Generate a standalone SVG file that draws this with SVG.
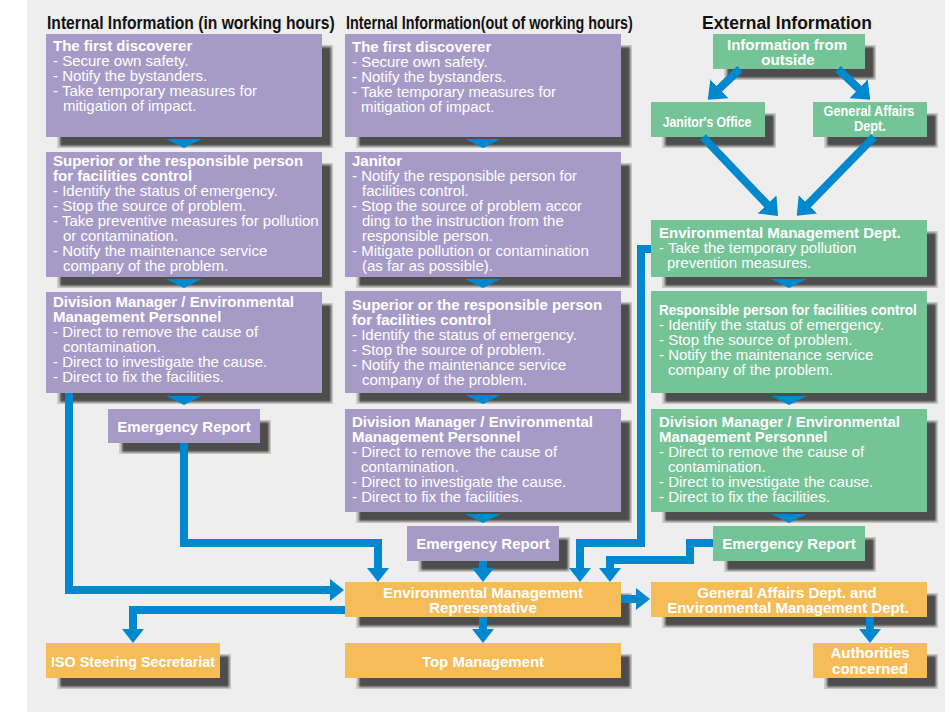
<svg xmlns="http://www.w3.org/2000/svg" width="950" height="712" viewBox="0 0 950 712">
<defs>
<style>
.hdr{font-family:"Liberation Sans",Arial,sans-serif;font-weight:bold;font-size:19px;fill:#111}
.t{font-family:"Liberation Sans",Arial,sans-serif;font-size:15px;fill:#fff}
.b{font-weight:bold}
.c{text-anchor:middle}
.p{fill:#a69bc7}
.g{fill:#74c498}
.o{fill:#f5bc58}
.s1{fill:#d0ccc8}
.s2{fill:#4d4d4d;filter:url(#bl)}
.con{fill:none;stroke:#0088cf;stroke-width:8}
.tri{fill:#0088cf}
</style>
<filter id="bl" x="-5%" y="-5%" width="110%" height="110%"><feGaussianBlur stdDeviation="1.2"/></filter>
<marker id="ah" markerUnits="userSpaceOnUse" markerWidth="14" markerHeight="22" viewBox="0 0 14 22" refX="1" refY="11" orient="auto"><path d="M0,0 L14,11 L0,22 Z" fill="#0088cf"/></marker>
<marker id="ahd" markerUnits="userSpaceOnUse" markerWidth="16" markerHeight="26" viewBox="0 0 16 26" refX="1" refY="13" orient="auto"><path d="M0,0 L16,13 L0,26 Z" fill="#0088cf"/></marker>
</defs>
<rect x="27" y="0" width="918" height="712" fill="#eeeeee"/>

<g id="headers">
<text class="hdr" transform="translate(47,29) scale(0.824,1)" x="0" y="0">Internal Information (in working hours)</text>
<text class="hdr" transform="translate(346,29) scale(0.755,1)" x="0" y="0">Internal Information(out of working hours)</text>
<text class="hdr" transform="translate(702,29) scale(0.92,1)" x="0" y="0">External Information</text>
</g>

<!-- Column 1 -->
<g id="c1-discoverer">
<rect class="s1" x="57" y="45" width="276" height="103"/><rect class="s2" x="60" y="47" width="271" height="99"/>
<rect class="p" x="46" y="34" width="276" height="103"/>
<text class="t"><tspan class="b" x="53" y="51">The first discoverer</tspan><tspan x="53" y="66">- Secure own safety.</tspan><tspan x="53" y="81">- Notify the bystanders.</tspan><tspan x="53" y="96">- Take temporary measures for</tspan><tspan x="63" y="111">mitigation of impact.</tspan></text>
</g>
<g id="c1-superior">
<rect class="s1" x="57" y="163" width="276" height="125"/><rect class="s2" x="60" y="165" width="271" height="121"/>
<rect class="p" x="46" y="152" width="276" height="125"/>
<text class="t"><tspan class="b" x="53" y="166">Superior or the responsible person</tspan><tspan class="b" x="53" y="181">for facilities control</tspan><tspan x="53" y="196">- Identify the status of emergency.</tspan><tspan x="53" y="211">- Stop the source of problem.</tspan><tspan x="53" y="226">- Take preventive measures for pollution</tspan><tspan x="63" y="241">or contamination.</tspan><tspan x="53" y="256">- Notify the maintenance service</tspan><tspan x="63" y="271">company of the problem.</tspan></text>
</g>
<g id="c1-division">
<rect class="s1" x="57" y="303" width="276" height="101"/><rect class="s2" x="60" y="305" width="271" height="97"/>
<rect class="p" x="46" y="292" width="276" height="101"/>
<text class="t"><tspan class="b" x="53" y="307">Division Manager / Environmental</tspan><tspan class="b" x="53" y="322">Management Personnel</tspan><tspan x="53" y="337">- Direct to remove the cause of</tspan><tspan x="63" y="352">contamination.</tspan><tspan x="53" y="367">- Direct to investigate the cause.</tspan><tspan x="53" y="382">- Direct to fix the facilities.</tspan></text>
</g>
<g id="c1-report">
<rect class="s1" x="119" y="420" width="152" height="34"/><rect class="s2" x="122" y="422" width="147" height="30"/>
<rect class="p" x="108" y="409" width="152" height="34"/>
<text class="t b c" x="184" y="432">Emergency Report</text>
</g>

<!-- Column 2 -->
<g id="c2-discoverer">
<rect class="s1" x="356" y="45" width="276" height="103"/><rect class="s2" x="359" y="47" width="271" height="99"/>
<rect class="p" x="345" y="34" width="276" height="103"/>
<text class="t"><tspan class="b" x="352" y="52">The first discoverer</tspan><tspan x="352" y="67">- Secure own safety.</tspan><tspan x="352" y="82">- Notify the bystanders.</tspan><tspan x="352" y="97">- Take temporary measures for</tspan><tspan x="361" y="112">mitigation of impact.</tspan></text>
</g>
<g id="c2-janitor">
<rect class="s1" x="356" y="163" width="276" height="125"/><rect class="s2" x="359" y="165" width="271" height="121"/>
<rect class="p" x="345" y="152" width="276" height="125"/>
<text class="t"><tspan class="b" x="352" y="166">Janitor</tspan><tspan x="352" y="181">- Notify the responsible person for</tspan><tspan x="362" y="196">facilities control.</tspan><tspan x="352" y="211">- Stop the source of problem accor</tspan><tspan x="362" y="226">ding to the instruction from the</tspan><tspan x="362" y="241">responsible person.</tspan><tspan x="352" y="256">- Mitigate pollution or contamination</tspan><tspan x="362" y="271">(as far as possible).</tspan></text>
</g>
<g id="c2-superior">
<rect class="s1" x="356" y="302" width="276" height="102"/><rect class="s2" x="359" y="304" width="271" height="98"/>
<rect class="p" x="345" y="291" width="276" height="102"/>
<text class="t"><tspan class="b" x="352" y="310">Superior or the responsible person</tspan><tspan class="b" x="352" y="325">for facilities control</tspan><tspan x="352" y="340">- Identify the status of emergency.</tspan><tspan x="352" y="355">- Stop the source of problem.</tspan><tspan x="352" y="370">- Notify the maintenance service</tspan><tspan x="362" y="385">company of the problem.</tspan></text>
</g>
<g id="c2-division">
<rect class="s1" x="356" y="420" width="276" height="103"/><rect class="s2" x="359" y="422" width="271" height="99"/>
<rect class="p" x="345" y="409" width="276" height="103"/>
<text class="t"><tspan class="b" x="352" y="427">Division Manager / Environmental</tspan><tspan class="b" x="352" y="442">Management Personnel</tspan><tspan x="352" y="457">- Direct to remove the cause of</tspan><tspan x="361" y="472">contamination.</tspan><tspan x="352" y="487">- Direct to investigate the cause.</tspan><tspan x="352" y="502">- Direct to fix the facilities.</tspan></text>
</g>
<g id="c2-report">
<rect class="s1" x="418" y="537" width="152" height="35"/><rect class="s2" x="421" y="539" width="147" height="31"/>
<rect class="p" x="407" y="526" width="152" height="35"/>
<text class="t b c" x="483" y="549">Emergency Report</text>
</g>

<!-- Column 3 -->
<g id="c3-info">
<rect class="s1" x="724" y="45" width="152" height="35"/><rect class="s2" x="727" y="47" width="147" height="31"/>
<rect class="g" x="713" y="34" width="152" height="35"/>
<text class="t b c"><tspan x="787" y="50">Information from</tspan><tspan x="788" y="65">outside</tspan></text>
</g>
<g id="c3-janitor-office">
<rect class="s1" x="662" y="113" width="114" height="35"/><rect class="s2" x="665" y="115" width="109" height="31"/>
<rect class="g" x="651" y="102" width="114" height="35"/>
<text class="t b c" transform="translate(707,127) scale(0.816,1)" x="0" y="0">Janitor's Office</text>
</g>
<g id="c3-general-affairs">
<rect class="s1" x="824" y="113" width="114" height="35"/><rect class="s2" x="827" y="115" width="109" height="31"/>
<rect class="g" x="813" y="102" width="114" height="35"/>
<text class="t b c" transform="translate(869,0) scale(0.85,1)"><tspan x="0" y="116">General Affairs</tspan><tspan x="1" y="131">Dept.</tspan></text>
</g>
<g id="c3-emd">
<rect class="s1" x="662" y="231" width="276" height="57"/><rect class="s2" x="665" y="233" width="271" height="53"/>
<rect class="g" x="651" y="220" width="276" height="57"/>
<text class="t"><tspan class="b" x="659" y="238">Environmental Management Dept.</tspan><tspan x="659" y="253">- Take the temporary pollution</tspan><tspan x="667" y="268">prevention measures.</tspan></text>
</g>
<g id="c3-responsible">
<rect class="s1" x="662" y="302" width="276" height="102"/><rect class="s2" x="665" y="304" width="271" height="98"/>
<rect class="g" x="651" y="291" width="276" height="102"/>
<text class="t b" transform="translate(659,315) scale(0.9,1)" x="0" y="0">Responsible person for facilities control</text>
<text class="t"><tspan x="659" y="330">- Identify the status of emergency.</tspan><tspan x="659" y="345">- Stop the source of problem.</tspan><tspan x="659" y="360">- Notify the maintenance service</tspan><tspan x="668" y="375">company of the problem.</tspan></text>
</g>
<g id="c3-division">
<rect class="s1" x="662" y="420" width="276" height="103"/><rect class="s2" x="665" y="422" width="271" height="99"/>
<rect class="g" x="651" y="409" width="276" height="103"/>
<text class="t"><tspan class="b" x="659" y="427">Division Manager / Environmental</tspan><tspan class="b" x="659" y="442">Management Personnel</tspan><tspan x="659" y="457">- Direct to remove the cause of</tspan><tspan x="668" y="472">contamination.</tspan><tspan x="659" y="487">- Direct to investigate the cause.</tspan><tspan x="659" y="502">- Direct to fix the facilities.</tspan></text>
</g>
<g id="c3-report">
<rect class="s1" x="724" y="537" width="152" height="35"/><rect class="s2" x="727" y="539" width="147" height="31"/>
<rect class="g" x="713" y="526" width="152" height="35"/>
<text class="t b c" x="789" y="549">Emergency Report</text>
</g>

<!-- Bottom row -->
<g id="ems-rep">
<rect class="s1" x="356" y="593" width="276" height="35"/><rect class="s2" x="359" y="595" width="271" height="31"/>
<rect class="o" x="345" y="582" width="276" height="35"/>
<text class="t b c"><tspan x="483" y="598">Environmental Management</tspan><tspan x="483" y="613">Representative</tspan></text>
</g>
<g id="iso-secretariat">
<rect class="s1" x="57" y="654" width="174" height="35"/><rect class="s2" x="60" y="656" width="169" height="31"/>
<rect class="o" x="46" y="643" width="174" height="35"/>
<text class="t b c" transform="translate(133,667) scale(0.955,1)" x="0" y="0">ISO Steering Secretariat</text>
</g>
<g id="top-management">
<rect class="s1" x="356" y="654" width="276" height="35"/><rect class="s2" x="359" y="656" width="271" height="31"/>
<rect class="o" x="345" y="643" width="276" height="35"/>
<text class="t b c" x="483" y="667">Top Management</text>
</g>
<g id="ga-emd">
<rect class="s1" x="662" y="593" width="276" height="35"/><rect class="s2" x="665" y="595" width="271" height="31"/>
<rect class="o" x="651" y="582" width="276" height="35"/>
<text class="t b c"><tspan x="787" y="598">General Affairs Dept. and</tspan><tspan x="788" y="613">Environmental Management Dept.</tspan></text>
</g>
<g id="authorities">
<rect class="s1" x="824" y="654" width="114" height="35"/><rect class="s2" x="827" y="656" width="109" height="31"/>
<rect class="o" x="813" y="643" width="114" height="35"/>
<text class="t b c"><tspan x="870" y="658">Authorities</tspan><tspan x="870" y="674">concerned</tspan></text>
</g>

<g id="connectors">
<polygon class="tri" points="166,139 202,139 184,148"/>
<polygon class="tri" points="166,279 202,279 184,288"/>
<polygon class="tri" points="166,396 202,396 184,405"/>
<polygon class="tri" points="465,139 501,139 483,148"/>
<polygon class="tri" points="465,279 501,279 483,288"/>
<polygon class="tri" points="465,395 501,395 483,404"/>
<polygon class="tri" points="465,514 501,514 483,523"/>
<polygon class="tri" points="771,279 807,279 789,288"/>
<polygon class="tri" points="771,396 807,396 789,405"/>
<polygon class="tri" points="771,514 807,514 789,523"/>
<path class="con" d="M69,393 V590 H331" marker-end="url(#ah)"/>
<path class="con" d="M184,443 V543 H378 V569" marker-end="url(#ah)"/>
<path class="con" d="M345,610 H133 V630" marker-end="url(#ah)"/>
<path class="con" d="M483,561 V569" marker-end="url(#ah)"/>
<path class="con" d="M483,617 V630" marker-end="url(#ah)"/>
<path class="con" d="M651,249 H641 V543 H580 V569" marker-end="url(#ah)"/>
<path class="con" d="M713,543 H690 V560 H610 V569" marker-end="url(#ah)"/>
<path class="con" d="M621,599 H637" marker-end="url(#ah)"/>
<path class="con" d="M870,617 V630" marker-end="url(#ah)"/>
<path class="con" d="M740,69 L718.6,89.4" marker-end="url(#ahd)"/>
<path class="con" d="M838,69 L859.4,89.4" marker-end="url(#ahd)"/>
<path class="con" d="M703,137 L767.7,205.1" marker-end="url(#ahd)"/>
<path class="con" d="M874,137 L807.3,205.1" marker-end="url(#ahd)"/>
</g>
</svg>
